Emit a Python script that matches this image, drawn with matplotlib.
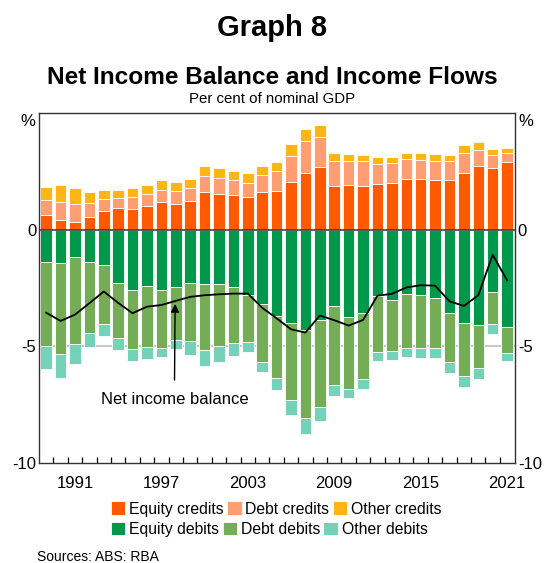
import matplotlib
matplotlib.use("Agg")
import matplotlib.pyplot as plt
import numpy as np

plt.rcParams['font.family'] = ['Liberation Sans', 'DejaVu Sans']

anos = list(range(1989, 2022))

# creditos (% do PIB nominal)
equity_credits = [0.63, 0.41, 0.31, 0.54, 0.80, 0.91, 0.88, 1.03, 1.18, 1.10, 1.25,
                  1.61, 1.52, 1.47, 1.42, 1.60, 1.64, 2.05, 2.45, 2.68, 1.87, 1.91,
                  1.89, 1.94, 2.02, 2.17, 2.17, 2.12, 2.12, 2.45, 2.72, 2.64, 2.88]
debt_credits = [0.63, 0.78, 0.78, 0.60, 0.51, 0.44, 0.50, 0.48, 0.53, 0.56, 0.54,
                0.67, 0.68, 0.64, 0.60, 0.74, 0.87, 1.10, 1.34, 1.31, 1.07, 1.05,
                1.04, 0.88, 0.83, 0.85, 0.80, 0.81, 0.81, 0.85, 0.71, 0.54, 0.41]
other_credits = [0.57, 0.74, 0.71, 0.48, 0.38, 0.36, 0.41, 0.41, 0.44, 0.40, 0.38,
                 0.46, 0.46, 0.40, 0.40, 0.40, 0.41, 0.51, 0.54, 0.48, 0.34, 0.30,
                 0.28, 0.28, 0.28, 0.28, 0.30, 0.31, 0.28, 0.33, 0.34, 0.27, 0.20]

# debitos (magnitude, desenhados abaixo de zero)
equity_debits = [1.38, 1.41, 1.19, 1.37, 1.52, 2.27, 2.57, 2.42, 2.60, 2.44, 2.30,
                 2.31, 2.31, 2.47, 2.78, 3.20, 3.70, 3.98, 4.28, 3.86, 3.27, 3.76,
                 3.56, 2.84, 3.01, 2.77, 2.81, 2.94, 3.58, 4.01, 4.10, 2.67, 4.16]
debt_debits = [3.61, 3.91, 3.72, 3.05, 2.53, 2.36, 2.53, 2.60, 2.47, 2.29, 2.49,
               2.86, 2.69, 2.39, 2.03, 2.47, 2.66, 3.30, 3.79, 3.72, 3.38, 3.06,
               2.86, 2.40, 2.20, 2.30, 2.26, 2.13, 2.10, 2.27, 1.83, 1.37, 1.13]
other_debits = [1.00, 1.04, 0.83, 0.62, 0.52, 0.54, 0.53, 0.53, 0.39, 0.40, 0.56,
                0.67, 0.67, 0.56, 0.43, 0.43, 0.49, 0.67, 0.67, 0.63, 0.47, 0.39,
                0.40, 0.39, 0.39, 0.39, 0.43, 0.43, 0.46, 0.46, 0.47, 0.43, 0.34]

net_income = [-3.56, -3.91, -3.64, -3.15, -2.65, -3.14, -3.58, -3.30, -3.23, -3.05, -2.88,
              -2.81, -2.77, -2.74, -2.74, -3.35, -3.80, -4.27, -4.41, -3.68, -3.88, -4.11,
              -3.87, -2.83, -2.75, -2.48, -2.38, -2.40, -3.07, -3.27, -2.81, -1.08, -2.17]

rotulos_x = [1991, 1997, 2003, 2009, 2015, 2021]

cores = {
    'Equity credits': '#FF5A00',
    'Debt credits': '#FF9E70',
    'Other credits': '#FFB514',
    'Equity debits': '#00984A',
    'Debt debits': '#74AD55',
    'Other debits': '#74D2B8',
}

fig = plt.figure(figsize=(5.44, 5.63), dpi=100)
ax = fig.add_axes([39 / 544, 1 - 463 / 563, 476 / 544, 350 / 563])

x = np.array(anos)
ec = np.array(equity_credits)
dc = np.array(debt_credits)
oc = np.array(other_credits)
ed = -np.array(equity_debits)
dd = -np.array(debt_debits)
od = -np.array(other_debits)

kw = dict(width=0.8, edgecolor='white', linewidth=0.6, zorder=2)
b1 = ax.bar(x, ec, color=cores['Equity credits'], **kw)
b2 = ax.bar(x, dc, bottom=ec, color=cores['Debt credits'], **kw)
b3 = ax.bar(x, oc, bottom=ec + dc, color=cores['Other credits'], **kw)
b4 = ax.bar(x, ed, color=cores['Equity debits'], **kw)
b5 = ax.bar(x, dd, bottom=ed, color=cores['Debt debits'], **kw)
b6 = ax.bar(x, od, bottom=ed + dd, color=cores['Other debits'], **kw)

ax.plot(x, net_income, color='black', linewidth=1.3, zorder=4)

ax.axhline(-5, color='#BDBDBD', linewidth=1.2, zorder=1)
ax.axhline(0, color='#333333', linewidth=1.1, zorder=3)

ax.set_xlim(1988.5, 2021.55)
ax.set_ylim(-10, 5)

ax.set_xticks(rotulos_x)
ax.set_xticklabels([str(a) for a in rotulos_x])
ax.set_xticks(np.arange(1989.5, 2021, 1), minor=True)
ax.tick_params(axis='x', which='major', length=0, pad=9, labelsize=12)
ax.tick_params(axis='x', which='minor', direction='in', length=4, width=0.9)

ax.set_yticks([-10, -5, 0])
ax.set_yticklabels(['-10', '-5', '0'])
ax.tick_params(axis='y', length=0, pad=2, labelsize=12, labelleft=True, labelright=True)

for s in ax.spines.values():
    s.set_linewidth(1.0)
    s.set_color('#333333')

ax.text(-0.008, 4.62, '%', transform=ax.get_yaxis_transform(), ha='right', va='center', fontsize=12)
ax.text(1.008, 4.62, '%', transform=ax.get_yaxis_transform(), ha='left', va='center', fontsize=12)

ax.annotate('Net income balance', xy=(1997.95, -3.18), xytext=(1997.9, -7.3),
            ha='center', va='center', fontsize=12,
            arrowprops=dict(arrowstyle='-|>', color='black', lw=1.0,
                            mutation_scale=12, shrinkA=7, shrinkB=0))

fig.text(0.5, 1 - 36 / 563, 'Graph 8', ha='center', va='baseline', fontsize=21, fontweight='bold')
fig.text(0.5, 1 - 84 / 563, 'Net Income Balance and Income Flows', ha='center', va='baseline',
         fontsize=17.6, fontweight='bold')
fig.text(0.5, 1 - 103 / 563, 'Per cent of nominal GDP', ha='center', va='baseline', fontsize=10.8)

leg_kw = dict(ncol=3, frameon=False, fontsize=11.3, handlelength=0.92, handleheight=0.92,
              handletextpad=0.25, columnspacing=0.2, borderpad=0, borderaxespad=0,
              loc='center left')
fig.legend([b1, b2, b3], ['Equity credits', 'Debt credits', 'Other credits'],
           bbox_to_anchor=(111 / 544, 1 - 509 / 563), **leg_kw)
fig.legend([b4, b5, b6], ['Equity debits', 'Debt debits', 'Other debits'],
           bbox_to_anchor=(111 / 544, 1 - 529.5 / 563), **leg_kw)

fig.text(37 / 544, 1 - 561 / 563, 'Sources: ABS: RBA', ha='left', va='baseline', fontsize=10)

fig.savefig('out.png', dpi=100)
